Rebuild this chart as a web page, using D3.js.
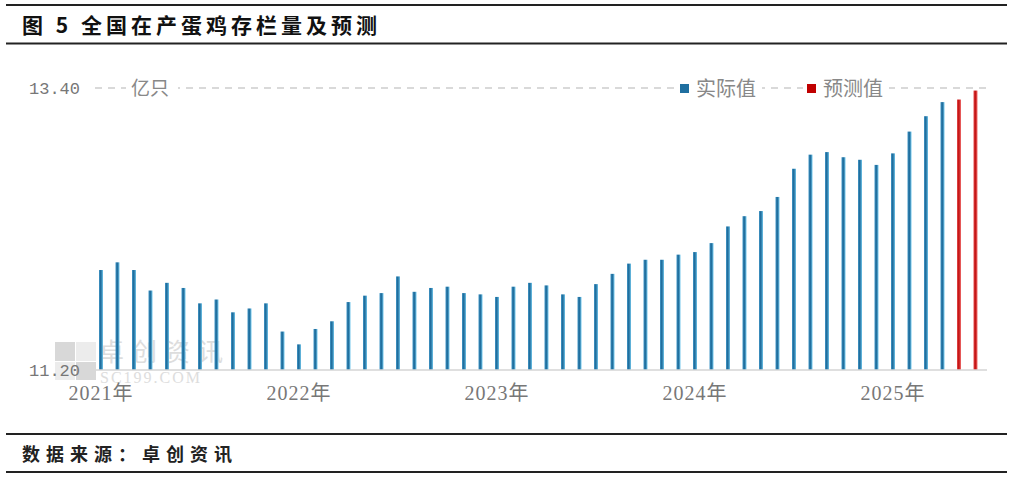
<!DOCTYPE html>
<html><head><meta charset="utf-8">
<script src="https://cdn.jsdelivr.net/npm/d3@7"></script>
<style>
body{margin:0;background:#fff;}
svg{display:block;}
</style></head>
<body><svg id="c" width="1013" height="480"></svg>
<script>
const title = "图 5 全国在产蛋鸡存栏量及预测";
const source = "数据来源：卓创资讯";
const unit = "亿只";
const years = [2021, 2022, 2023, 2024, 2025];
const yTicks = [11.2, 13.4];
const legendNames = ["实际值", "预测值"];
// 2021-01 .. 2025-04 actual
const actual = [11.98,12.04,11.98,11.82,11.88,11.84,11.72,11.75,11.65,11.68,11.72,11.50,
                11.40,11.52,11.58,11.73,11.78,11.80,11.93,11.81,11.84,11.85,11.80,11.79,
                11.77,11.85,11.88,11.86,11.79,11.77,11.87,11.95,12.03,12.06,12.06,12.10,
                12.12,12.19,12.32,12.40,12.44,12.55,12.77,12.88,12.90,12.86,12.84,12.80,
                12.89,13.06,13.18,13.29];
// 2025-05, 2025-06 forecast
const forecast = [13.31,13.38];

const months = [];
years.forEach(y => d3.range(1,13).forEach(m => months.push(y + "-" + String(m).padStart(2,"0"))));
const cats = months.slice(0, actual.length + forecast.length);
const data = cats.map((c,i) => ({c, v: i < actual.length ? actual[i] : forecast[i-actual.length], f: i >= actual.length}));

const svg = d3.select("#c");
svg.append("rect").attr("width",1013).attr("height",480).attr("fill","#fff");

const defs = svg.append("defs");
function grad(id, edge1, mid, edge2){
  const g = defs.append("linearGradient").attr("id",id).attr("x1","0").attr("x2","1").attr("y1","0").attr("y2","0");
  g.append("stop").attr("offset","0%").attr("stop-color",edge1);
  g.append("stop").attr("offset","45%").attr("stop-color",mid);
  g.append("stop").attr("offset","100%").attr("stop-color",edge2);
}
grad("gb","#3f95c6","#1b6796","#6ec4ea");
grad("gr","#e44a4a","#c00d0d","#ef6a6a");

// header / footer rules
const rules = [5, 43.5, 434, 472];
svg.selectAll("line.rule").data(rules).enter().append("line")
  .attr("x1",6).attr("x2",1007).attr("y1",d=>d).attr("y2",d=>d)
  .attr("stroke","#222").attr("stroke-width",2);

svg.append("text").attr("x",22).attr("y",33).text(title)
  .attr("font-family","Noto Sans CJK SC").attr("font-weight","bold")
  .attr("font-size",21).attr("letter-spacing",4).attr("fill","#111");
svg.append("text").attr("x",22).attr("y",461).text(source)
  .attr("font-family","Noto Sans CJK SC").attr("font-weight","bold")
  .attr("font-size",18).attr("letter-spacing",6).attr("fill","#222");

// watermark
const wm = svg.append("g").attr("opacity",0.9);
wm.append("rect").attr("x",55).attr("y",342).attr("width",20).attr("height",19).attr("fill","#d4d4d4");
wm.append("rect").attr("x",76).attr("y",342).attr("width",20).attr("height",19).attr("fill","#ebebeb");
wm.append("rect").attr("x",55).attr("y",362).attr("width",20).attr("height",18).attr("fill","#ebebeb");
wm.append("rect").attr("x",76).attr("y",362).attr("width",20).attr("height",18).attr("fill","#d4d4d4");
wm.append("text").attr("x",99).attr("y",361).text("卓创资讯").attr("font-family","Noto Sans CJK SC")
  .attr("font-size",25).attr("fill","#dadada").attr("letter-spacing",8);
wm.append("text").attr("x",100).attr("y",383).text("SC199.COM").attr("font-family","Liberation Serif")
  .attr("font-size",16).attr("fill","#dadada").attr("letter-spacing",2);

const x = d3.scaleBand().domain(cats).range([92.75, 983.75]).paddingInner(0.76).paddingOuter(0.38);
const y = d3.scaleLinear().domain([11.2, 13.4]).range([370, 88]);

// top dashed gridline
svg.append("line").attr("x1",95).attr("x2",986).attr("y1",y(13.4)).attr("y2",y(13.4))
  .attr("stroke","#cdcdcd").attr("stroke-width",1.5).attr("stroke-dasharray","7,6");

// bars
svg.append("g").selectAll("rect").data(data).enter().append("rect")
  .attr("x", d => x(d.c)).attr("width", x.bandwidth())
  .attr("y", d => y(d.v)).attr("height", d => y(11.2) - y(d.v))
  .attr("fill", d => d.f ? "url(#gr)" : "url(#gb)");

// baseline
svg.append("line").attr("x1",96).attr("x2",987).attr("y1",370).attr("y2",370)
  .attr("stroke","#d4d4d4").attr("stroke-width",1.5);

// y axis
const ya = svg.append("g").attr("transform","translate(80,0)")
  .call(d3.axisLeft(y).tickValues(yTicks).tickFormat(d3.format(".2f")).tickSize(0).tickPadding(0));
ya.select(".domain").remove();
ya.selectAll("text").attr("font-family","Liberation Mono").attr("font-size",17)
  .attr("fill","#777").attr("dy","0.35em");

// x axis
const janCats = years.map(yr => yr + "-01");
const xa = svg.append("g").attr("transform","translate(0,370)")
  .call(d3.axisBottom(x).tickValues(janCats).tickFormat(d => d.slice(0,4) + "年").tickSize(0).tickPadding(20));
xa.select(".domain").remove();
xa.selectAll("text").attr("font-family","Liberation Serif, Noto Sans CJK SC").attr("font-size",20)
  .attr("letter-spacing",1).attr("fill","#777").attr("dy","0.5em");

// unit label
svg.append("rect").attr("x",126).attr("y",78).attr("width",52).attr("height",24).attr("fill","#fff");
svg.append("text").attr("x",131).attr("y",y(13.4)).attr("dy","0.38em").text(unit)
  .attr("font-family","Noto Sans CJK SC").attr("font-size",19).attr("fill","#888");

// legend
const legX = [680, 807];
const lg = svg.append("g").selectAll("g").data(legendNames).enter().append("g")
  .attr("transform",(d,i)=>`translate(${legX[i]},${y(13.4)})`);
lg.append("rect").attr("x",-4).attr("y",-12).attr("width",86).attr("height",26).attr("fill","#fff");
lg.append("rect").attr("x",0).attr("y",-4).attr("width",9).attr("height",9).attr("fill",(d,i)=>i?"#c00000":"#1f6fa0");
lg.append("text").attr("x",16).attr("dy","0.38em").text(d=>d)
  .attr("font-family","Noto Sans CJK SC").attr("font-size",20).attr("fill","#888");
</script></body></html>
